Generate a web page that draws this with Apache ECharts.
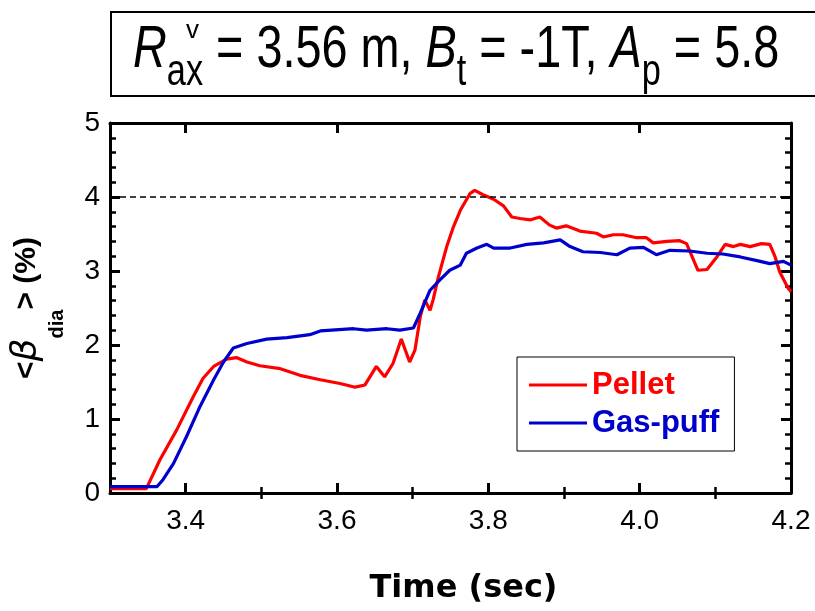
<!DOCTYPE html>
<html><head><meta charset="utf-8">
<script src="https://cdn.jsdelivr.net/npm/echarts@6/dist/echarts.min.js"></script>
<style>html,body{margin:0;padding:0;background:#fff}#c{width:815px;height:611px}</style>
</head><body><div id="c"></div>
<script>
// ---- data ----
const pelletTime = [3.300,3.348,3.366,3.388,3.410,3.423,3.437,3.454,3.467,3.481,3.498,3.525,3.551,3.578,3.604,3.624,3.637,3.652,3.663,3.674,3.685,3.696,3.703,3.710,3.716,3.723,3.727,3.734,3.745,3.754,3.763,3.776,3.782,3.793,3.807,3.820,3.831,3.842,3.855,3.868,3.881,3.890,3.903,3.921,3.943,3.952,3.965,3.978,3.996,4.009,4.018,4.036,4.053,4.062,4.077,4.089,4.102,4.113,4.124,4.133,4.146,4.161,4.172,4.179,4.185,4.196,4.200];
const pelletBeta = [0.06,0.06,0.45,0.85,1.30,1.55,1.71,1.81,1.83,1.77,1.72,1.68,1.59,1.53,1.48,1.43,1.46,1.71,1.57,1.75,2.08,1.77,1.93,2.38,2.61,2.47,2.61,2.92,3.33,3.60,3.82,4.05,4.09,4.03,3.97,3.88,3.73,3.71,3.69,3.73,3.62,3.58,3.61,3.54,3.51,3.46,3.49,3.49,3.45,3.45,3.38,3.40,3.41,3.37,3.01,3.02,3.19,3.36,3.33,3.36,3.33,3.37,3.36,3.19,2.99,2.77,2.72];
const gasTime = [3.300,3.362,3.370,3.384,3.401,3.419,3.437,3.450,3.463,3.481,3.507,3.534,3.564,3.578,3.622,3.639,3.666,3.683,3.701,3.710,3.723,3.736,3.749,3.763,3.771,3.785,3.798,3.807,3.829,3.851,3.873,3.895,3.908,3.925,3.948,3.970,3.987,4.005,4.022,4.040,4.066,4.089,4.110,4.133,4.155,4.172,4.190,4.200];
const gasBeta = [0.085,0.085,0.18,0.40,0.76,1.17,1.53,1.77,1.96,2.02,2.08,2.10,2.14,2.19,2.22,2.20,2.22,2.20,2.23,2.43,2.74,2.88,3.01,3.08,3.24,3.31,3.36,3.31,3.31,3.36,3.38,3.42,3.33,3.26,3.25,3.22,3.31,3.32,3.22,3.28,3.27,3.24,3.23,3.19,3.14,3.10,3.13,3.08];
const seriesNames = ['Pellet', 'Gas-puff'];
const xMajorTicks = [3.4, 3.6, 3.8, 4.0, 4.2];
const xMinorTicks = [3.5, 3.7, 3.9, 4.1];
const referenceLevel = 4;

// ---- chart ----
const RED = '#ff0000', BLUE = '#0000cc';
const tickFont = "'Liberation Sans', Arial, sans-serif";
const chart = echarts.init(document.getElementById('c'), null, {renderer: 'canvas'});

const axisLineStyle = {show: true, onZero: false, lineStyle: {color: '#000', width: 3}};
function xAx(pos, ticks, len, width, withLabel, extra) {
  return Object.assign({
    type: 'value', gridIndex: 0, position: pos, min: 3.3, max: 4.2,
    axisLine: withLabel !== null ? axisLineStyle : {show: false},
    axisTick: {show: true, inside: true, length: len, customValues: ticks, lineStyle: {color: '#000', width: width}},
    axisLabel: withLabel ? {show: true, customValues: ticks, formatter: v => v.toFixed(1), fontSize: 28, fontFamily: tickFont, color: '#000', margin: 14} : {show: false},
    splitLine: {show: false}
  }, extra || {});
}
function yAx(pos, withLabel, extra) {
  return Object.assign({
    type: 'value', gridIndex: 0, position: pos, min: 0, max: 5, interval: 1,
    axisLine: axisLineStyle,
    axisTick: {show: true, inside: true, length: 10, lineStyle: {color: '#000', width: 3}},
    minorTick: {show: true, splitNumber: 5, length: 6, lineStyle: {color: '#000', width: 2.5}},
    axisLabel: withLabel ? {show: true, fontSize: 28, fontFamily: tickFont, color: '#000', margin: 10} : {show: false},
    splitLine: {show: false}, minorSplitLine: {show: false}
  }, extra || {});
}

const option = {
  animation: false,
  backgroundColor: '#fff',
  grid: {left: 110, right: 24, top: 123, bottom: 118, containLabel: false, outerBoundsMode: 'none'},
  xAxis: [
    xAx('bottom', xMajorTicks, 10, 3, true, {
      name: 'Time (sec)', nameLocation: 'middle', nameGap: 80, nameMoveOverlap: false,
      nameTextStyle: {fontSize: 32, fontWeight: 'bold', fontFamily: "'DejaVu Sans', sans-serif", color: '#000', padding: [0, 0, 0, 26]}
    }),
    xAx('bottom', xMinorTicks, 6, 2.5, null),
    xAx('top', xMajorTicks, 10, 3, false),
    xAx('top', xMinorTicks, 6, 2.5, null)
  ],
  yAxis: [
    yAx('left', true, {
      name: '{m|<}{b|\u03B2}{s|dia}{m|> (%)}', nameLocation: 'middle', nameRotate: 90, nameGap: 43, nameMoveOverlap: false,
      nameTextStyle: {
        color: '#000', fontFamily: tickFont, fontSize: 30, fontWeight: 'bold',
        rich: {
          m: {fontSize: 30, fontWeight: 'bold', fontFamily: tickFont, color: '#000', lineHeight: 80},
          b: {fontSize: 36, fontStyle: 'italic', fontWeight: 'normal', fontFamily: "'DejaVu Sans', sans-serif", color: '#000', lineHeight: 80},
          s: {fontSize: 20, fontWeight: 'bold', fontFamily: tickFont, color: '#000', lineHeight: 20, verticalAlign: 'bottom'}
        }
      }
    }),
    yAx('right', false)
  ],
  legend: {
    show: true, orient: 'vertical', left: 517, top: 357,
    icon: 'rect', itemWidth: 58, itemHeight: 3, itemGap: 4,
    padding: [11, 15, 11, 12],
    borderColor: '#000', borderWidth: 1, backgroundColor: '#fff',
    textStyle: {fontSize: 31, fontWeight: 'bold', fontFamily: tickFont, lineHeight: 34},
    data: [
      {name: seriesNames[0], textStyle: {color: RED}},
      {name: seriesNames[1], textStyle: {color: BLUE}}
    ]
  },
  series: [
    {
      name: seriesNames[0], type: 'line', xAxisIndex: 0, yAxisIndex: 0,
      data: pelletTime.map((t, i) => [t, pelletBeta[i]]),
      symbol: 'none', showSymbol: false, color: RED,
      lineStyle: {color: RED, width: 3.2}, z: 3,
      markLine: {
        silent: true, symbol: ['none', 'none'], label: {show: false},
        lineStyle: {color: '#000', type: [6, 4], width: 1.5},
        data: [{yAxis: referenceLevel}]
      }
    },
    {
      name: seriesNames[1], type: 'line', xAxisIndex: 0, yAxisIndex: 0,
      data: gasTime.map((t, i) => [t, gasBeta[i]]),
      symbol: 'none', showSymbol: false, color: BLUE,
      lineStyle: {color: BLUE, width: 3.2}, z: 4
    }
  ],
  graphic: [
    {type: 'rect', shape: {x: 111, y: 12, width: 760, height: 84}, style: {fill: 'none', stroke: '#000', lineWidth: 2}, silent: true},
    {
      type: 'text', x: 133, y: 50, scaleX: 0.78, scaleY: 1, silent: true,
      style: {
        text: '{i|R}{sub|ax}{n| = 3.56 m, }{i|B}{sub|t}{n| = -1T, }{i|A}{sub|p}{n| = 5.8}',
        align: 'left', verticalAlign: 'middle', fill: '#000',
        fontFamily: tickFont, fontSize: 60,
        rich: {
          n: {fontFamily: tickFont, fontSize: 60, lineHeight: 90, fill: '#000'},
          i: {fontFamily: tickFont, fontSize: 60, fontStyle: 'italic', lineHeight: 90, fill: '#000'},
          sub: {fontFamily: tickFont, fontSize: 44, lineHeight: 64, verticalAlign: 'bottom', fill: '#000'}
        }
      }
    },
    {
      type: 'text', x: 186, y: 31, silent: true,
      style: {text: 'v', fontFamily: tickFont, fontSize: 26, fill: '#000', align: 'left', verticalAlign: 'middle'}
    }
  ]
};
chart.setOption(option);
</script>
</body></html>
